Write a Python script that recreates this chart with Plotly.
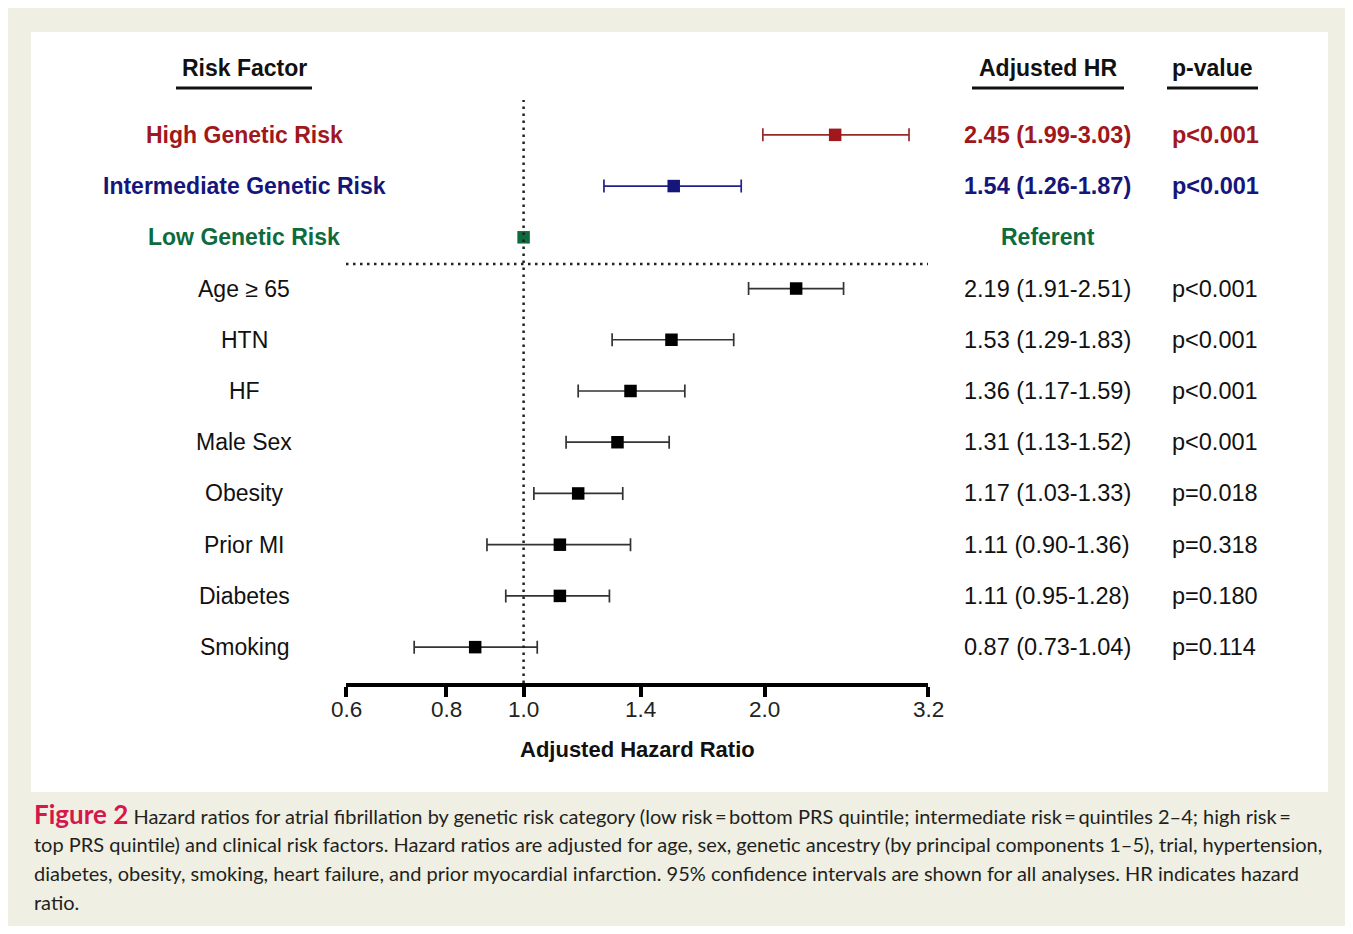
import math
import plotly.graph_objects as go

# ---- data ----
labels = ["High Genetic Risk", "Intermediate Genetic Risk", "Low Genetic Risk",
          "Age ≥ 65", "HTN", "HF", "Male Sex", "Obesity", "Prior MI", "Diabetes", "Smoking"]
hr = [2.45, 1.54, 1.00, 2.19, 1.53, 1.36, 1.31, 1.17, 1.11, 1.11, 0.87]
ci_low = [1.99, 1.26, None, 1.91, 1.29, 1.17, 1.13, 1.03, 0.90, 0.95, 0.73]
ci_high = [3.03, 1.87, None, 2.51, 1.83, 1.59, 1.52, 1.33, 1.36, 1.28, 1.04]
hr_text = ["2.45 (1.99-3.03)", "1.54 (1.26-1.87)", "Referent",
           "2.19 (1.91-2.51)", "1.53 (1.29-1.83)", "1.36 (1.17-1.59)", "1.31 (1.13-1.52)",
           "1.17 (1.03-1.33)", "1.11 (0.90-1.36)", "1.11 (0.95-1.28)", "0.87 (0.73-1.04)"]
p_text = ["p<0.001", "p<0.001", "",
          "p<0.001", "p<0.001", "p<0.001", "p<0.001", "p=0.018", "p=0.318", "p=0.180", "p=0.114"]
tick_vals = [0.6, 0.8, 1.0, 1.4, 2.0, 3.2]
tick_text = ["0.6", "0.8", "1.0", "1.4", "2.0", "3.2"]
headers = ["Risk Factor", "Adjusted HR", "p-value"]
x_title = "Adjusted Hazard Ratio"
caption_lines = [
    "Hazard ratios for atrial fibrillation by genetic risk category (low risk\u2009=\u2009bottom PRS quintile; intermediate risk\u2009=\u2009quintiles 2–4; high risk\u2009=",
    "top PRS quintile) and clinical risk factors. Hazard ratios are adjusted for age, sex, genetic ancestry (by principal components 1–5), trial, hypertension,",
    "diabetes, obesity, smoking, heart failure, and prior myocardial infarction. 95% confidence intervals are shown for all analyses. HR indicates hazard",
    "ratio.",
]
caption_label = "Figure 2"

# ---- style / geometry (page pixels; the page body has an 8px margin) ----
PAGE_W, PAGE_H = 1353, 934
M = 8
W, H = PAGE_W - 2 * M, PAGE_H - 2 * M
RED, BLUE, GREEN = "#a0171c", "#16167a", "#0d6b3d"
row_colors = [RED, BLUE, GREEN] + ["#111111"] * 8
marker_colors = [RED, BLUE, GREEN] + ["#000000"] * 8
bar_colors = ["#9a2a2a", "#22228a", GREEN] + ["#333333"] * 8
bold_rows = [True, True, True] + [False] * 8
FONT = "Liberation Sans, Arial, sans-serif"
CAP_FONT = "Lato, Open Sans, sans-serif"
BEIGE = "#efefe3"


def px(x):
    return (x - M) / W


def py(y):
    return 1 - (y - M) / H


fig = go.Figure()

for i in range(len(labels)):
    has_ci = ci_low[i] is not None
    fig.add_trace(go.Scatter(
        x=[hr[i]], y=[i], mode="markers",
        marker=dict(symbol="square", size=12.5, color=marker_colors[i]),
        error_x=dict(type="data", symmetric=False,
                     array=[(ci_high[i] - hr[i]) if has_ci else 0],
                     arrayminus=[(hr[i] - ci_low[i]) if has_ci else 0],
                     color=bar_colors[i], thickness=1.7, width=6.5, visible=has_ci),
        showlegend=False, hoverinfo="skip",
    ))

fig.update_xaxes(type="log", range=[math.log10(0.6), math.log10(3.2)],
                 domain=[px(346), px(928)],
                 showgrid=False, zeroline=False, showline=True, linecolor="#000000", linewidth=4,
                 ticks="outside", ticklen=10, tickwidth=4, tickcolor="#000000",
                 tickvals=tick_vals, showticklabels=False)
fig.update_yaxes(range=[10.7, -0.68], domain=[py(683), py(100)], visible=False,
                 showgrid=False, zeroline=False)

shapes = [
    dict(type="rect", xref="paper", yref="paper", x0=px(7), x1=px(1350), y0=py(927), y1=py(7),
         fillcolor=BEIGE, line=dict(width=0), layer="below"),
    dict(type="rect", xref="paper", yref="paper", x0=px(31), x1=px(1328), y0=py(792), y1=py(32),
         fillcolor="#ffffff", line=dict(width=0), layer="below"),
    # reference line at HR = 1
    dict(type="line", xref="x", yref="paper", x0=1.0, x1=1.0, y0=py(683), y1=py(100),
         line=dict(color="#222222", width=2.5, dash="2.5px,4.5px")),
    # separator between genetic and clinical rows
    dict(type="line", xref="x", yref="y", x0=0.6, x1=3.2, y0=2.52, y1=2.52,
         line=dict(color="#222222", width=2.5, dash="2.5px,4.5px")),
]
# header underlines
for x0, x1 in [(176, 312), (972, 1124), (1167, 1258)]:
    shapes.append(dict(type="line", xref="paper", yref="paper", x0=px(x0), x1=px(x1),
                       y0=py(88), y1=py(88), line=dict(color="#111111", width=3)))

ann = []
# headers
for txt, xc in zip(headers, [244, 1048, 1212]):
    ann.append(dict(text="<b>%s</b>" % txt, xref="paper", yref="paper", x=px(xc), y=py(68),
                    xanchor="center", yanchor="middle", showarrow=False,
                    font=dict(family=FONT, size=23, color="#111111")))

for i in range(len(labels)):
    lab = "<b>%s</b>" % labels[i] if bold_rows[i] else labels[i]
    ann.append(dict(text=lab, xref="paper", yref="y", x=px(244), y=i, xanchor="center",
                    yanchor="middle", showarrow=False,
                    font=dict(family=FONT, size=23, color=row_colors[i])))
    t = hr_text[i]
    if t == "Referent":
        ann.append(dict(text="<b>%s</b>" % t, xref="paper", yref="y", x=px(1048), y=i,
                        xanchor="center", yanchor="middle", showarrow=False,
                        font=dict(family=FONT, size=23, color=row_colors[i])))
    else:
        ann.append(dict(text="<b>%s</b>" % t if bold_rows[i] else t, xref="paper", yref="y",
                        x=px(962), y=i, xanchor="left", yanchor="middle", showarrow=False,
                        font=dict(family=FONT, size=23.5, color=row_colors[i])))
    if p_text[i]:
        ann.append(dict(text="<b>%s</b>" % p_text[i] if bold_rows[i] else p_text[i],
                        xref="paper", yref="y", x=px(1170), y=i, xanchor="left",
                        yanchor="middle", showarrow=False,
                        font=dict(family=FONT, size=23.5, color=row_colors[i])))

# tick labels, placed on the x axis scale
for v, t in zip(tick_vals, tick_text):
    ann.append(dict(text=t, xref="x", yref="paper", x=math.log10(v), y=py(709),
                    xanchor="center", yanchor="middle", showarrow=False,
                    font=dict(family=FONT, size=22.5, color="#222222")))

ann.append(dict(text="<b>%s</b>" % x_title, xref="paper", yref="paper", x=px(637), y=py(749),
                xanchor="center", yanchor="middle", showarrow=False,
                font=dict(family=FONT, size=22, color="#111111")))

# caption
cap_y = [814, 844, 873, 902]
for k, line in enumerate(caption_lines):
    txt = line
    if k == 0:
        txt = '<b><span style="color:#d5174b;font-size:26px">%s</span></b> %s' % (caption_label, line)
    ann.append(dict(text=txt, xref="paper", yref="paper", x=px(32), y=py(cap_y[k]),
                    xanchor="left", yanchor="middle", showarrow=False,
                    font=dict(family=CAP_FONT, size=20, color="#231f20")))

fig.update_layout(width=W, height=H, margin=dict(l=0, r=0, t=0, b=0),
                  paper_bgcolor="#ffffff", plot_bgcolor="rgba(0,0,0,0)",
                  shapes=shapes, annotations=ann, showlegend=False)

fig.write_html("out.html")
